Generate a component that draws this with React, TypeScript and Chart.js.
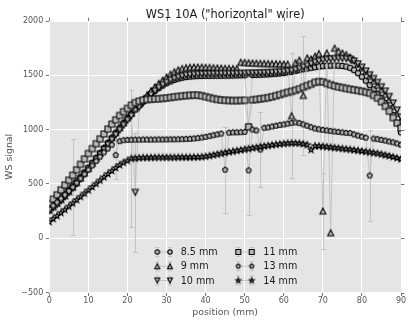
import React, { useEffect, useRef } from 'react';
import { Chart, registerables } from 'chart.js';

Chart.register(...registerables);

const chartTitle = 'WS1 10A ("horizontal" wire)';
const xTitle = 'position (mm)';
const yTitle = 'WS signal';
const seriesLabels = ['8.5 mm', '9 mm', '10 mm', '11 mm', '13 mm', '14 mm'];

const positions = [
  0, 1, 2, 3, 4, 5, 6, 7, 8, 9,
  10, 11, 12, 13, 14, 15, 16, 17, 18, 19,
  20, 21, 22, 23, 24, 25, 26, 27, 28, 29,
  30, 31, 32, 33, 34, 35, 36, 37, 38, 39,
  40, 41, 42, 43, 44, 45, 46, 47, 48, 49,
  50, 51, 52, 53, 54, 55, 56, 57, 58, 59,
  60, 61, 62, 63, 64, 65, 66, 67, 68, 69,
  70, 71, 72, 73, 74, 75, 76, 77, 78, 79,
  80, 81, 82, 83, 84, 85, 86, 87, 88, 89,
  90,
];

const s85 = [
  280, 310, 342, 375, 410, 447, 485, 525, 565, 607,
  650, 695, 740, 785, 830, 878, 925, 972, 1018, 1062,
  1105, 1145, 1185, 1222, 1258, 1292, 1325, 1355, 1382, 1406,
  1427, 1444, 1458, 1469, 1478, 1484, 1488, 1491, 1493, 1494,
  1495, 1495, 1496, 1496, 1496, 1497, 1497, 1498, 1499, 1500,
  1501, 1030, 1503, 1504, 1505, 1507, 1509, 1511, 1514, 1518,
  1522, 1527, 1533, 1540, 1548, 1556, 1563, 1569, 1575, 1580,
  1584, 1587, 1589, 1590, 1589, 1586, 1580, 1568, 1548, 1520,
  1487, 1450, 1410, 1370, 1330, 1290, 1245, 1195, 1135, 1060,
  975,
];

const s9 = [
  260, 290, 322, 356, 392, 430, 470, 512, 555, 600,
  645, 690, 737, 784, 831, 878, 925, 972, 1018, 1063,
  1108, 1152, 1195, 1237, 1278, 1318, 1356, 1392, 1425, 1456,
  1484, 1510, 1532, 1550, 1562, 1570, 1574, 1576, 1576, 1575,
  1574, 1572, 1570, 1568, 1566, 1564, 1563, 1562, 1562, 1620,
  1618, 1615, 1613, 1612, 1610, 1609, 1608, 1607, 1606, 1605,
  1604, 1603, 1128, 1615, 1640, 1315, 1660, 1650, 1675, 1700,
  250, 1705, 50, 1750, 1722, 1705, 1690, 1668, 1640, 1605,
  1570, 1535, 1492, 1450, 1410, 1370, 1325, 1275, 1215, 1150,
  1085,
];

const s10 = [
  250, 280, 310, 345, 380, 420, 460, 500, 545, 590,
  635, 680, 725, 770, 815, 860, 905, 950, 995, 1040,
  1085, 1125, 422, 1205, 1245, 1285, 1320, 1355, 1385, 1412,
  1435, 1455, 1470, 1482, 1492, 1500, 1505, 1508, 1510, 1512,
  1513, 1514, 1514, 1515, 1515, 1515, 1515, 1515, 1516, 1517,
  1518, 1519, 1520, 1521, 1522, 1523, 1524, 1526, 1528, 1530,
  1533, 1537, 1542, 1550, 1562, 1575, 1590, 1605, 1620, 1632,
  1640, 1646, 1650, 1653, 1655, 1655, 1653, 1648, 1630, 1605,
  1575, 1540, 1505, 1470, 1435, 1395, 1355, 1305, 1245, 1180,
  1115,
];

const s11 = [
  320, 360, 400, 445, 490, 535, 580, 630, 680, 730,
  780, 825, 870, 915, 960, 1005, 1050, 1090, 1130, 1165,
  1195, 1225, 1248, 1262, 1272, 1277, 1280, 1282, 1284, 1287,
  1291, 1296, 1301, 1305, 1309, 1313, 1316, 1318, 1318, 1312,
  1303, 1294, 1285, 1278, 1273, 1270, 1268, 1267, 1267, 1268,
  1270, 1025, 1274, 1278, 1283, 1288, 1294, 1302, 1312, 1322,
  1333, 1343, 1352, 1362, 1375, 1390, 1405, 1418, 1435, 1442,
  1440, 1425, 1413, 1402, 1393, 1386, 1379, 1372, 1366, 1360,
  1353, 1345, 1335, 1315, 1290, 1255, 1214, 1170, 1110, 1060,
  1015,
];

const s13 = [
  270, 300, 330, 365, 400, 435, 470, 510, 550, 590,
  630, 670, 710, 750, 790, 825, 860, 765, 893, 902,
  905, 906, 907, 907, 908, 908, 908, 908, 909, 909,
  909, 910, 910, 911, 912, 913, 915, 918, 922, 927,
  933, 940, 948, 956, 963, 630, 972, 974, 975, 976,
  978, 624, 1000, 992, 816, 1016, 1020, 1028, 1035, 1042,
  1048, 1055, 1062, 1066, 1060, 1048, 1035, 1022, 1010, 1003,
  997, 992, 987, 982, 978, 974, 970, 968, 955, 945,
  935, 925, 577, 917, 912, 905, 898, 890, 882, 872,
  860,
];

const s14 = [
  150, 178, 206, 234, 262, 292, 322, 352, 382, 412,
  442, 472, 502, 532, 562, 592, 620, 648, 674, 696,
  714, 735, 736, 740, 742, 742, 743, 743, 744, 744,
  744, 744, 744, 745, 745, 745, 745, 746, 747, 749,
  753, 759, 766, 773, 780, 787, 794, 800, 806, 812,
  818, 824, 830, 836, 842, 848, 853, 858, 863, 867,
  871, 874, 876, 876, 874, 868, 860, 815, 850, 848,
  845, 841, 837, 833, 829, 825, 821, 817, 812, 807,
  802, 797, 792, 786, 780, 773, 765, 757, 748, 738,
  728,
];

// large error bars: [position, half-length]
const err85: number[][] = [];
const err9 = [[62, 573], [65, 545], [70, 352]];
const err10 = [[22, 548]];
const err11: number[][] = [];
const err13 = [[6, 439], [17, 220], [45, 397], [51, 413], [54, 345], [82, 423]];
const err14 = [[21, 633]];

const xTicksStep = 10;
const yTicksStep = 500;

const FONT = '"DejaVu Sans", "Liberation Sans", sans-serif';
const FACE = '#b8b8b8';
const EDGE = '#000000';
const LINE = '#c4c4c4';
const BG = '#e5e5e5';
const TICK = '#555555';
const MS = 6;

type Shape = 'circle' | 'triUp' | 'triDown' | 'square' | 'pentagon' | 'star';
const shapes: Shape[] = ['circle', 'triUp', 'triDown', 'square', 'pentagon', 'star'];

function makeMarker(shape: Shape, size: number): HTMLCanvasElement {
  const c = document.createElement('canvas');
  c.width = 12;
  c.height = 12;
  const ctx = c.getContext('2d')!;
  const cx = 6, cy = 6;
  const h = shape === 'circle' || shape === 'pentagon' ? size / 2 - 0.3 : size / 2;
  ctx.beginPath();
  if (shape === 'circle') {
    ctx.arc(cx, cy, h, 0, Math.PI * 2);
  } else if (shape === 'square') {
    ctx.rect(cx - h, cy - h, 2 * h, 2 * h);
  } else if (shape === 'triUp') {
    ctx.moveTo(cx, cy - h);
    ctx.lineTo(cx - h, cy + h);
    ctx.lineTo(cx + h, cy + h);
  } else if (shape === 'triDown') {
    ctx.moveTo(cx, cy + h);
    ctx.lineTo(cx - h, cy - h);
    ctx.lineTo(cx + h, cy - h);
  } else if (shape === 'pentagon') {
    for (let k = 0; k < 5; k++) {
      const a = -Math.PI / 2 + (k * 2 * Math.PI) / 5;
      const px = cx + h * Math.cos(a), py = cy + h * Math.sin(a);
      if (k === 0) ctx.moveTo(px, py); else ctx.lineTo(px, py);
    }
  } else {
    const inner = h * 0.4;
    for (let k = 0; k < 10; k++) {
      const a = -Math.PI / 2 + (k * Math.PI) / 5;
      const r = k % 2 === 0 ? h * 1.05 : inner * 1.05;
      const px = cx + r * Math.cos(a), py = cy + r * Math.sin(a);
      if (k === 0) ctx.moveTo(px, py); else ctx.lineTo(px, py);
    }
  }
  ctx.closePath();
  ctx.fillStyle = FACE;
  ctx.fill();
  ctx.lineWidth = 1.1;
  ctx.lineJoin = 'miter';
  ctx.strokeStyle = EDGE;
  ctx.stroke();
  return c;
}

const seriesValues = [s85, s9, s10, s11, s13, s14];
const seriesErrors = [err85, err9, err10, err11, err13, err14];

function fmtY(v: number) {
  return v < 0 ? '\u2212' + Math.abs(v) : String(v);
}

export default function App() {
  const ref = useRef<HTMLCanvasElement>(null);

  useEffect(() => {
    const markers = shapes.map((s) => makeMarker(s, MS));
    const legendMarkers = shapes.map((s) => makeMarker(s, MS - 1));

    const bgPlugin = {
      id: 'bg',
      beforeDraw(chart: any) {
        const { ctx, chartArea: a } = chart;
        ctx.save();
        ctx.fillStyle = '#ffffff';
        ctx.fillRect(0, 0, chart.width, chart.height);
        ctx.fillStyle = BG;
        ctx.fillRect(a.left, a.top, a.right - a.left, a.bottom - a.top);
        ctx.restore();
      },
    };

    const errPlugin = {
      id: 'errbars',
      beforeDatasetsDraw(chart: any) {
        const { ctx, chartArea: a, scales } = chart;
        const xs = scales.x, ys = scales.y;
        ctx.save();
        ctx.beginPath();
        ctx.rect(a.left, a.top, a.right - a.left, a.bottom - a.top);
        ctx.clip();
        ctx.strokeStyle = LINE;
        ctx.lineWidth = 1;
        seriesErrors.forEach((errs, si) => {
          errs.forEach(([p, half]) => {
            const idx = positions.indexOf(p);
            const v = seriesValues[si][idx];
            const X = Math.round(xs.getPixelForValue(p)) + 0.5;
            const y1 = ys.getPixelForValue(v - half);
            const y2 = ys.getPixelForValue(v + half);
            ctx.beginPath();
            ctx.moveTo(X, y1);
            ctx.lineTo(X, y2);
            ctx.moveTo(X - 2.5, Math.round(y1) + 0.5);
            ctx.lineTo(X + 2.5, Math.round(y1) + 0.5);
            ctx.moveTo(X - 2.5, Math.round(y2) + 0.5);
            ctx.lineTo(X + 2.5, Math.round(y2) + 0.5);
            ctx.stroke();
          });
        });
        ctx.restore();
      },
    };

    const decoPlugin = {
      id: 'deco',
      afterDraw(chart: any) {
        const { ctx, chartArea: a, scales } = chart;
        const xs = scales.x, ys = scales.y;
        ctx.save();
        // top & right tick marks
        ctx.strokeStyle = TICK;
        ctx.lineWidth = 0.8;
        xs.ticks.forEach((t: any) => {
          const X = Math.round(xs.getPixelForValue(t.value)) + 0.5;
          ctx.beginPath();
          ctx.moveTo(X, a.top);
          ctx.lineTo(X, a.top - 3.5);
          ctx.stroke();
        });
        ys.ticks.forEach((t: any) => {
          const Y = Math.round(ys.getPixelForValue(t.value)) + 0.5;
          ctx.beginPath();
          ctx.moveTo(a.right, Y);
          ctx.lineTo(a.right + 3.5, Y);
          ctx.stroke();
        });
        // title
        ctx.fillStyle = '#1a1a1a';
        ctx.font = '11.4px ' + FONT;
        ctx.textAlign = 'center';
        ctx.textBaseline = 'alphabetic';
        ctx.fillText(chartTitle, (a.left + a.right) / 2, 17.5);
        // legend (2 columns x 3 rows)
        const cols = [
          { m1: 157.3, m2: 170, tx: 180.7 },
          { m1: 238.3, m2: 251.7, tx: 263.3 },
        ];
        const rows = [252, 266.3, 280.5];
        ctx.font = '9.6px ' + FONT;
        ctx.textAlign = 'left';
        ctx.textBaseline = 'middle';
        seriesLabels.forEach((label, i) => {
          const col = cols[Math.floor(i / 3)];
          const y = rows[i % 3];
          ctx.strokeStyle = LINE;
          ctx.lineWidth = 1;
          ctx.beginPath();
          ctx.moveTo(col.m1, y);
          ctx.lineTo(col.m2, y);
          [col.m1, col.m2].forEach((mx) => {
            ctx.moveTo(mx, y - 4.5);
            ctx.lineTo(mx, y + 4.5);
            ctx.moveTo(mx - 2, y - 4.5);
            ctx.lineTo(mx + 2, y - 4.5);
            ctx.moveTo(mx - 2, y + 4.5);
            ctx.lineTo(mx + 2, y + 4.5);
          });
          ctx.stroke();
          [col.m1, col.m2].forEach((mx) => {
            ctx.drawImage(legendMarkers[i], mx - 6, y - 6);
          });
          ctx.fillStyle = '#1a1a1a';
          ctx.fillText(label, col.tx, y + 0.5);
        });
        ctx.restore();
      },
    };

    const datasets = seriesValues.map((vals, i) => ({
      label: seriesLabels[i],
      data: positions.map((p, j) => ({ x: p, y: vals[j] })),
      borderColor: LINE,
      backgroundColor: FACE,
      borderWidth: 1,
      pointStyle: markers[i],
      pointRadius: 3,
      pointHoverRadius: 3,
      tension: 0,
      fill: false,
      clip: 0,
      order: seriesValues.length - i,
    }));

    const tickFont = { family: FONT, size: 8 };
    const titleFont = { family: FONT, size: 9.4 };

    const chart = new Chart(ref.current as HTMLCanvasElement, {
      type: 'line',
      data: { datasets } as any,
      options: {
        animation: false,
        responsive: false,
        events: [],
        layout: { padding: { left: 0, right: 7, top: 21, bottom: 0 } },
        plugins: {
          legend: { display: false },
          tooltip: { enabled: false },
          title: { display: false },
        },
        scales: {
          x: {
            type: 'linear',
            min: 0,
            max: 90,
            ticks: {
              stepSize: xTicksStep,
              color: TICK,
              font: tickFont,
              padding: 0,
              maxRotation: 0,
              autoSkip: false,
            },
            grid: {
              color: '#ffffff',
              lineWidth: 1,
              drawTicks: true,
              tickLength: 3.5,
              tickColor: TICK,
              tickWidth: 0.8,
            },
            border: { display: false },
            title: {
              display: true,
              text: xTitle,
              color: TICK,
              font: titleFont,
              padding: { top: 0, bottom: 1.4 },
            },
            afterFit: (s: any) => {
              s.height = 27.5;
            },
          },
          y: {
            type: 'linear',
            min: -500,
            max: 2000,
            ticks: {
              stepSize: yTicksStep,
              color: TICK,
              font: tickFont,
              padding: 2.5,
              callback: (v: any) => fmtY(Number(v)),
            },
            grid: {
              color: '#ffffff',
              lineWidth: 1,
              drawTicks: true,
              tickLength: 3.5,
              tickColor: TICK,
              tickWidth: 0.8,
            },
            border: { display: false },
            title: {
              display: true,
              text: yTitle,
              color: TICK,
              font: titleFont,
              padding: { top: 4.4, bottom: 0 },
            },
            afterFit: (s: any) => {
              s.width = 49.3;
            },
          },
        },
      } as any,
      plugins: [bgPlugin, errPlugin, decoPlugin],
    });
    return () => chart.destroy();
  }, []);

  return (
    <div style={{ position: 'fixed', left: 0, top: 0, width: 408, height: 320, background: '#fff' }}>
      <canvas ref={ref} width={408} height={320} style={{ display: 'block', width: 408, height: 320 }} />
    </div>
  );
}
